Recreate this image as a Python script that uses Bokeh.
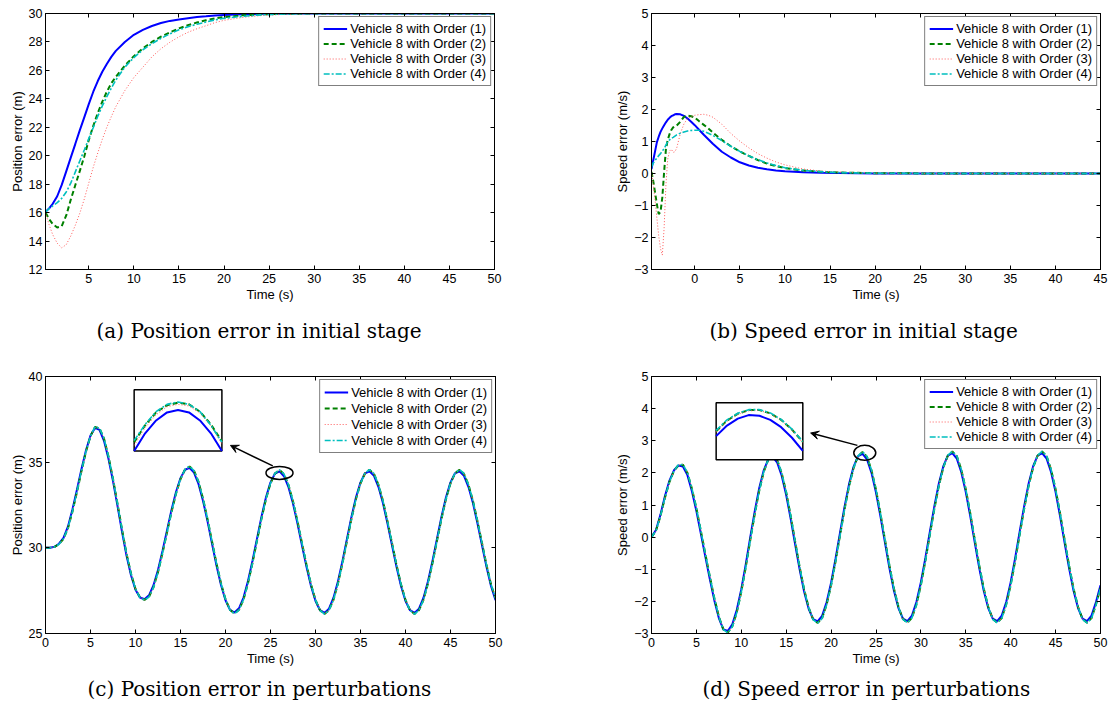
from bokeh.plotting import figure
from bokeh.models import (Range1d, LinearAxis, FixedTicker, Legend, LegendItem,
                          Title, Arrow, VeeHead)
from bokeh.layouts import column, row
from bokeh.embed import file_html
from bokeh.resources import INLINE

# ---------------- data ----------------
series_labels = ["Vehicle 8 with Order (1)", "Vehicle 8 with Order (2)",
                 "Vehicle 8 with Order (3)", "Vehicle 8 with Order (4)"]
captions = ["(a) Position error in initial stage", "(b) Speed error in initial stage",
            "(c) Position error in perturbations", "(d) Speed error in perturbations"]

# (a) position error, initial stage
t_a = [0.2, 0.6, 1.0, 1.5, 2.0, 2.5, 3.0, 3.5, 4.0, 4.5, 5.0, 5.5, 6.0, 6.5, 7.0, 7.5, 8.0,
       9.0, 10.0, 11.0, 12.0, 13.0, 14.0, 15.0, 16.0, 17.0, 18.0, 19.0, 20.0,
       22.0, 24.0, 26.0, 28.0, 30.0, 35.0, 40.0, 45.0, 50.0]
pos_a_1 = [16.05, 16.3, 16.62, 17.15, 17.95, 18.9, 19.87, 20.82, 21.78, 22.7, 23.63, 24.5, 25.25, 25.9, 26.45, 26.95, 27.37,
           28.0, 28.5, 28.85, 29.12, 29.33, 29.48, 29.58, 29.67, 29.75, 29.8, 29.86, 29.9,
           29.95, 29.98, 29.99, 30.0, 30.0, 30.0, 30.0, 30.0, 30.0]
pos_a_2 = [16.0, 15.55, 15.2, 14.95, 15.05, 15.8, 16.9, 17.92, 18.92, 19.95, 21.1, 22.1, 23.0, 23.8, 24.5, 25.1, 25.55,
           26.33, 27.0, 27.55, 28.0, 28.37, 28.67, 28.95, 29.18, 29.37, 29.52, 29.65, 29.75,
           29.87, 29.94, 29.97, 29.99, 30.0, 30.0, 30.0, 30.0, 30.0]
pos_a_3 = [16.0, 15.15, 14.45, 13.85, 13.52, 13.75, 14.35, 15.1, 15.95, 16.95, 18.08, 19.2, 20.2, 21.15, 22.0, 22.75, 23.45,
           24.58, 25.5, 26.22, 26.95, 27.52, 27.98, 28.36, 28.68, 28.93, 29.14, 29.36, 29.52,
           29.72, 29.85, 29.92, 29.96, 29.99, 30.0, 30.0, 30.0, 30.0]
pos_a_4 = [16.05, 16.28, 16.47, 16.7, 17.0, 17.45, 18.07, 18.85, 19.63, 20.4, 21.2, 21.98, 22.78, 23.5, 24.15, 24.75, 25.32,
           26.23, 26.9, 27.45, 27.88, 28.25, 28.57, 28.85, 29.07, 29.25, 29.4, 29.55, 29.66,
           29.8, 29.9, 29.95, 29.98, 30.0, 30.0, 30.0, 30.0, 30.0]

# (b) speed error, initial stage
t_b = [-4.8, -4.6, -4.4, -4.2, -4.0, -3.8, -3.6, -3.4, -3.2, -3.0, -2.8, -2.6, -2.4, -2.2, -2.0,
       -1.6, -1.2, -0.8, -0.4, 0.0, 0.5, 1.0, 1.5, 2.0,
       3.0, 4.0, 5.0, 6.0, 7.0, 8.0, 9.0, 10.0, 12.0, 14.0, 16.0, 18.0, 20.0, 25.0, 30.0, 35.0, 40.0, 45.0]
spd_b_1 = [0.14, 0.42, 0.7, 0.98, 1.15, 1.3, 1.41, 1.51, 1.6, 1.68, 1.74, 1.79, 1.82, 1.85, 1.86,
           1.85, 1.8, 1.72, 1.62, 1.51, 1.36, 1.21, 1.07, 0.93,
           0.68, 0.5, 0.35, 0.25, 0.18, 0.13, 0.095, 0.07, 0.04, 0.025, 0.012, 0.006, 0.003, 0.0, 0.0, 0.0, 0.0, 0.0]
spd_b_2 = [0.05, -0.25, -0.6, -0.97, -1.27, -1.2, -0.75, 0.05, 0.76, 1.05, 1.23, 1.36, 1.44, 1.48, 1.5,
           1.62, 1.77, 1.81, 1.79, 1.75, 1.63, 1.52, 1.41, 1.28,
           1.05, 0.85, 0.69, 0.55, 0.42, 0.31, 0.23, 0.17, 0.09, 0.055, 0.03, 0.02, 0.01, 0.003, 0.0, 0.0, 0.0, 0.0]
spd_b_3 = [0.05, -0.35, -0.85, -1.4, -1.95, -2.35, -2.55, -1.7, -0.35, 0.45, 0.7, 0.76, 0.66, 0.68, 0.8,
           1.25, 1.55, 1.72, 1.78, 1.82, 1.84, 1.85, 1.82, 1.76,
           1.54, 1.25, 1.01, 0.8, 0.62, 0.48, 0.36, 0.27, 0.14, 0.075, 0.045, 0.025, 0.012, 0.003, 0.0, 0.0, 0.0, 0.0]
spd_b_4 = [0.2, 0.33, 0.41, 0.48, 0.56, 0.62, 0.7, 0.78, 0.89, 1.0, 1.05, 1.1, 1.13, 1.17, 1.21,
           1.26, 1.3, 1.33, 1.345, 1.35, 1.35, 1.32, 1.26, 1.19,
           1.03, 0.85, 0.69, 0.55, 0.43, 0.33, 0.25, 0.18, 0.1, 0.055, 0.03, 0.018, 0.01, 0.002, 0.0, 0.0, 0.0, 0.0]

# (c), (d) perturbations, sampled every 0.5 s from 0 to 50 s
t_pert = [i * 0.5 for i in range(101)]
pos_c_1 = [30.0, 30.01, 30.06, 30.24, 30.58, 31.25, 32.25, 33.4, 34.6, 35.7,
           36.55, 37.0, 36.88, 36.25, 35.2, 33.9, 32.45, 30.95, 29.55, 28.4,
           27.55, 27.1, 27.0, 27.23, 27.82, 28.71, 29.82, 31.02, 32.21, 33.26,
           34.07, 34.56, 34.67, 34.39, 33.73, 32.75, 31.56, 30.25, 28.97, 27.83,
           26.94, 26.38, 26.22, 26.47, 27.10, 28.06, 29.25, 30.54, 31.82, 32.95,
           33.82, 34.34, 34.46, 34.18, 33.54, 32.59, 31.42, 30.14, 28.89, 27.77,
           26.90, 26.36, 26.2, 26.45, 27.09, 28.05, 29.24, 30.54, 31.82, 32.95,
           33.82, 34.35, 34.47, 34.2, 33.55, 32.6, 31.42, 30.15, 28.89, 27.77,
           26.9, 26.36, 26.2, 26.45, 27.09, 28.05, 29.24, 30.54, 31.82, 32.95,
           33.82, 34.35, 34.47, 34.2, 33.55, 32.6, 31.42, 30.15, 28.89, 27.77,
           26.95]
pos_c_2 = [30.0, 30.01, 30.05, 30.21, 30.52, 31.15, 32.12, 33.27, 34.48, 35.62,
           36.52, 37.05, 36.98, 36.38, 35.33, 34.03, 32.58, 31.08, 29.67, 28.5,
           27.6, 27.1, 26.96, 27.14, 27.7, 28.58, 29.69, 30.89, 32.09, 33.16,
           34.01, 34.57, 34.75, 34.5, 33.86, 32.88, 31.69, 30.38, 29.09, 27.93,
           27.0, 26.38, 26.16, 26.38, 26.98, 27.93, 29.12, 30.41, 31.7, 32.85,
           33.76, 34.34, 34.55, 34.3, 33.67, 32.72, 31.55, 30.27, 29.01, 27.87,
           26.96, 26.36, 26.14, 26.36, 26.97, 27.92, 29.11, 30.41, 31.7, 32.85,
           33.76, 34.35, 34.56, 34.32, 33.68, 32.73, 31.55, 30.28, 29.01, 27.87,
           26.96, 26.36, 26.14, 26.36, 26.97, 27.92, 29.11, 30.41, 31.7, 32.85,
           33.76, 34.35, 34.56, 34.32, 33.68, 32.73, 31.55, 30.28, 29.01, 27.87,
           27.05]
pos_c_3 = [30.0, 30.01, 30.05, 30.2, 30.5, 31.12, 32.08, 33.23, 34.44, 35.6,
           36.5, 37.03, 36.97, 36.38, 35.34, 34.05, 32.6, 31.1, 29.69, 28.52,
           27.62, 27.12, 26.97, 27.13, 27.68, 28.56, 29.67, 30.87, 32.07, 33.14,
           34.0, 34.56, 34.73, 34.5, 33.87, 32.9, 31.71, 30.4, 29.11, 27.95,
           27.02, 26.4, 26.17, 26.37, 26.96, 27.91, 29.1, 30.39, 31.68, 32.83,
           33.75, 34.33, 34.53, 34.3, 33.68, 32.74, 31.57, 30.29, 29.03, 27.89,
           26.98, 26.38, 26.15, 26.35, 26.95, 27.9, 29.09, 30.39, 31.68, 32.83,
           33.75, 34.34, 34.54, 34.32, 33.69, 32.75, 31.57, 30.3, 29.03, 27.89,
           26.98, 26.38, 26.15, 26.35, 26.95, 27.9, 29.09, 30.39, 31.68, 32.83,
           33.75, 34.34, 34.54, 34.32, 33.69, 32.75, 31.57, 30.3, 29.03, 27.89,
           27.07]
pos_c_4 = [30.0, 30.01, 30.05, 30.21, 30.53, 31.16, 32.13, 33.28, 34.49, 35.63,
           36.53, 37.06, 36.99, 36.39, 35.34, 34.04, 32.59, 31.09, 29.68, 28.51,
           27.61, 27.1, 26.95, 27.13, 27.69, 28.57, 29.68, 30.88, 32.08, 33.16,
           34.02, 34.58, 34.76, 34.51, 33.87, 32.89, 31.7, 30.39, 29.1, 27.94,
           27.0, 26.37, 26.15, 26.37, 26.97, 27.92, 29.11, 30.4, 31.7, 32.85,
           33.77, 34.35, 34.56, 34.31, 33.68, 32.73, 31.56, 30.28, 29.02, 27.88,
           26.96, 26.35, 26.13, 26.35, 26.96, 27.91, 29.1, 30.4, 31.7, 32.85,
           33.77, 34.36, 34.57, 34.33, 33.69, 32.74, 31.56, 30.29, 29.02, 27.88,
           26.96, 26.35, 26.13, 26.35, 26.96, 27.91, 29.1, 30.4, 31.7, 32.85,
           33.77, 34.36, 34.57, 34.33, 33.69, 32.74, 31.56, 30.29, 29.02, 27.88,
           27.06]

spd_d_1 = [0.0, 0.22, 0.7, 1.28, 1.76, 2.08, 2.23, 2.2, 1.93, 1.43,
           0.81, 0.1, -0.61, -1.31, -1.97, -2.52, -2.87, -2.92, -2.71, -2.26,
           -1.62, -0.84, 0.0, 0.81, 1.53, 2.08, 2.42, 2.495, 2.32, 1.91,
           1.31, 0.57, -0.23, -1.01, -1.7, -2.23, -2.55, -2.625, -2.45, -2.03,
           -1.42, -0.665, 0.15, 0.95, 1.65, 2.19, 2.52, 2.595, 2.42, 2.0,
           1.39, 0.64, -0.17, -0.97, -1.67, -2.21, -2.54, -2.615, -2.44, -2.02,
           -1.4, -0.65, 0.17, 0.96, 1.67, 2.21, 2.54, 2.615, 2.44, 2.02,
           1.4, 0.65, -0.17, -0.96, -1.67, -2.21, -2.54, -2.615, -2.44, -2.02,
           -1.4, -0.65, 0.17, 0.96, 1.67, 2.21, 2.54, 2.615, 2.44, 2.02,
           1.4, 0.65, -0.17, -0.96, -1.67, -2.21, -2.54, -2.615, -2.44, -2.02,
           -1.5]
spd_d_2 = [0.0, 0.2, 0.66, 1.23, 1.72, 2.06, 2.24, 2.25, 2.0, 1.51,
           0.9, 0.19, -0.53, -1.23, -1.9, -2.47, -2.87, -2.97, -2.78, -2.34,
           -1.7, -0.93, -0.09, 0.72, 1.45, 2.03, 2.41, 2.54, 2.4, 1.99,
           1.4, 0.66, -0.14, -0.93, -1.63, -2.19, -2.56, -2.67, -2.52, -2.1,
           -1.5, -0.75, 0.06, 0.87, 1.58, 2.15, 2.52, 2.65, 2.5, 2.08,
           1.48, 0.73, -0.08, -0.89, -1.6, -2.17, -2.55, -2.66, -2.51, -2.1,
           -1.49, -0.74, 0.08, 0.88, 1.6, 2.17, 2.54, 2.665, 2.52, 2.1,
           1.49, 0.74, -0.08, -0.88, -1.6, -2.17, -2.55, -2.665, -2.52, -2.1,
           -1.49, -0.74, 0.08, 0.88, 1.6, 2.17, 2.54, 2.665, 2.52, 2.1,
           1.49, 0.74, -0.08, -0.88, -1.6, -2.17, -2.55, -2.665, -2.52, -2.1,
           -1.58]
spd_d_3 = [0.0, 0.19, 0.65, 1.22, 1.71, 2.05, 2.24, 2.26, 2.02, 1.53,
           0.92, 0.21, -0.51, -1.21, -1.88, -2.46, -2.86, -2.97, -2.79, -2.36,
           -1.72, -0.95, -0.11, 0.7, 1.43, 2.02, 2.4, 2.54, 2.41, 2.0,
           1.42, 0.68, -0.12, -0.91, -1.62, -2.18, -2.56, -2.67, -2.53, -2.11,
           -1.52, -0.77, 0.04, 0.85, 1.57, 2.14, 2.51, 2.65, 2.51, 2.09,
           1.5, 0.75, -0.06, -0.87, -1.59, -2.16, -2.55, -2.66, -2.52, -2.11,
           -1.51, -0.76, 0.06, 0.86, 1.59, 2.16, 2.54, 2.66, 2.53, 2.11,
           1.51, 0.76, -0.06, -0.86, -1.59, -2.16, -2.55, -2.66, -2.53, -2.11,
           -1.51, -0.76, 0.06, 0.86, 1.59, 2.16, 2.54, 2.66, 2.53, 2.11,
           1.51, 0.76, -0.06, -0.86, -1.59, -2.16, -2.55, -2.66, -2.53, -2.11,
           -1.6]
spd_d_4 = [0.0, 0.2, 0.66, 1.23, 1.72, 2.06, 2.25, 2.26, 2.01, 1.52,
           0.91, 0.2, -0.52, -1.22, -1.89, -2.47, -2.88, -2.98, -2.79, -2.35,
           -1.71, -0.94, -0.1, 0.71, 1.44, 2.03, 2.42, 2.55, 2.41, 2.0,
           1.41, 0.67, -0.13, -0.92, -1.63, -2.19, -2.57, -2.68, -2.53, -2.11,
           -1.51, -0.76, 0.05, 0.86, 1.58, 2.15, 2.53, 2.66, 2.51, 2.09,
           1.49, 0.74, -0.07, -0.88, -1.6, -2.17, -2.56, -2.67, -2.52, -2.11,
           -1.5, -0.75, 0.07, 0.87, 1.6, 2.17, 2.55, 2.67, 2.53, 2.11,
           1.5, 0.75, -0.07, -0.87, -1.6, -2.17, -2.56, -2.67, -2.53, -2.11,
           -1.5, -0.75, 0.07, 0.87, 1.6, 2.17, 2.55, 2.67, 2.53, 2.11,
           1.5, 0.75, -0.07, -0.87, -1.6, -2.17, -2.56, -2.67, -2.53, -2.11,
           -1.59]

# zoomed insets (values around one peak)
t_inset_c = [25.1, 25.3, 25.5, 25.7, 25.9, 26.1, 26.3, 26.5, 26.7]
ins_c_1 = [33.96, 34.18, 34.34, 34.44, 34.47, 34.44, 34.34, 34.18, 33.96]
ins_c_2 = [34.07, 34.28, 34.44, 34.53, 34.56, 34.54, 34.45, 34.29, 34.08]
ins_c_3 = [34.03, 34.25, 34.41, 34.51, 34.54, 34.52, 34.43, 34.27, 34.05]
ins_c_4 = [34.09, 34.29, 34.45, 34.54, 34.57, 34.54, 34.45, 34.28, 34.07]
win_c_x = [25.1, 26.7]
win_c_y = [33.96, 34.72]

t_inset_d = [22.74, 22.94, 23.14, 23.34, 23.54, 23.74, 23.94, 24.14, 24.34]
ins_d_1 = [2.34, 2.47, 2.555, 2.598, 2.59, 2.54, 2.45, 2.32, 2.16]
ins_d_2 = [2.4, 2.53, 2.615, 2.66, 2.66, 2.62, 2.54, 2.42, 2.27]
ins_d_3 = [2.39, 2.52, 2.605, 2.65, 2.655, 2.615, 2.535, 2.41, 2.26]
ins_d_4 = [2.41, 2.54, 2.62, 2.665, 2.665, 2.625, 2.545, 2.425, 2.275]
win_d_x = [22.74, 24.34]
win_d_y = [2.05, 2.75]

# ticks
xticks_50 = [0, 5, 10, 15, 20, 25, 30, 35, 40, 45, 50]
yticks_a = [12, 14, 16, 18, 20, 22, 24, 26, 28, 30]
yticks_spd = [-3, -2, -1, 0, 1, 2, 3, 4, 5]
yticks_c = [25, 30, 35, 40]

# ---------------- styling ----------------
SANS = "Liberation Sans"
SERIF = "DejaVu Serif"
STYLES = [
    dict(line_color="#0000ff", line_width=2, line_dash="solid"),
    dict(line_color="#008000", line_width=2, line_dash="5 3"),
    dict(line_color="#ff5a5a", line_width=1, line_dash="1 2"),
    dict(line_color="#00bfbf", line_width=1.6, line_dash="6 2 2 2"),
]


def minus(v):
    return str(v).replace("-", "\u2212")


def style_axis(ax, ticks, size="12.5px"):
    ax.ticker = FixedTicker(ticks=ticks)
    ax.major_tick_in = 4
    ax.major_tick_out = 0
    ax.minor_tick_line_color = None
    ax.axis_line_color = "black"
    ax.major_tick_line_color = "black"
    ax.major_label_text_font = SANS
    ax.major_label_text_font_size = size
    ax.major_label_text_color = "black"
    ax.axis_label_text_font = SANS
    ax.axis_label_text_font_size = "13px"
    ax.axis_label_text_font_style = "normal"
    ax.axis_label_text_color = "black"


def frac_to_data(p, fx, fy):
    xr, yr = p.x_range, p.y_range
    return (xr.start + fx * (xr.end - xr.start), yr.end - fy * (yr.end - yr.start))


def make_panel(width, height, borders, xr, yr, xticks, yticks, ylabel, caption,
               caption_offset, caption_standoff, legend_row_h):
    l, r, t, b = borders
    p = figure(width=width, height=height, x_range=Range1d(*xr), y_range=Range1d(*yr),
               output_backend="svg", toolbar_location=None,
               min_border_left=l, min_border_right=r, min_border_top=t, min_border_bottom=b)
    p.grid.visible = False
    p.outline_line_color = "black"
    p.outline_line_width = 1
    p.background_fill_color = "white"
    p.border_fill_color = "white"
    xa = p.xaxis[0]
    ya = p.yaxis[0]
    style_axis(xa, xticks)
    style_axis(ya, yticks)
    ya.major_label_overrides = {v: minus(v) for v in yticks if v < 0}
    xa.major_label_standoff = 4
    ya.major_label_standoff = 3
    xa.axis_label = "Time (s)"
    xa.axis_label_standoff = 1
    ya.axis_label = ylabel
    ya.axis_label_standoff = 1
    # mirrored tick marks on top and right (MATLAB box)
    for side, ticks in (("above", xticks), ("right", yticks)):
        ax = LinearAxis()
        style_axis(ax, ticks, size="0px")
        ax.major_label_overrides = {v: "" for v in ticks}
        ax.major_label_standoff = 0
        p.add_layout(ax, side)
    p.add_layout(Title(text=caption, align="left", offset=caption_offset,
                       text_font=SERIF, text_font_size="20px",
                       text_font_style="normal", text_color="black",
                       standoff=caption_standoff), "below")
    p._legend_row_h = legend_row_h
    return p


def add_series(p, t, series):
    items = []
    for lab, ys, st in zip(series_labels, series, STYLES):
        r = p.line(t, ys, **st)
        items.append(LegendItem(label=lab, renderers=[r]))
    leg = Legend(items=items, location="top_right", border_line_color="black",
                 border_line_width=1.5, background_fill_color="white",
                 background_fill_alpha=1.0, label_text_font=SANS,
                 label_text_font_size="13px", label_text_color="black",
                 glyph_width=24, glyph_height=p._legend_row_h,
                 label_height=p._legend_row_h, spacing=0, padding=4, margin=3,
                 label_standoff=3)
    p.add_layout(leg)


def add_inset(p, box, win_x, win_y, t_in, series, ell, arrow):
    l, r, tp, bt = box
    sx = (win_x[1] - win_x[0]) / (r - l)
    xs = win_x[0] - l * sx
    sy = (win_y[1] - win_y[0]) / (bt - tp)
    ye = win_y[1] + tp * sy
    p.extra_x_ranges = {"ix": Range1d(xs, xs + sx)}
    p.extra_y_ranges = {"iy": Range1d(ye - sy, ye)}
    p.quad(left=[win_x[0]], right=[win_x[1]], bottom=[win_y[0]], top=[win_y[1]],
           x_range_name="ix", y_range_name="iy", fill_color="white",
           line_color="black", line_width=1.5)
    for ys, st in zip(series, STYLES):
        p.line(t_in, ys, x_range_name="ix", y_range_name="iy", **st)
    ex, ey = frac_to_data(p, ell[0], ell[1])
    p.ellipse(x=[ex], y=[ey], width=ell[2], height=ell[3], width_units="screen",
              height_units="screen", fill_alpha=0, line_color="black", line_width=1.5)
    x0, y0 = frac_to_data(p, arrow[0], arrow[1])
    x1, y1 = frac_to_data(p, arrow[2], arrow[3])
    p.add_layout(Arrow(end=VeeHead(size=8, line_color="black", fill_color="black",
                                   line_width=1),
                       x_start=x0, y_start=y0, x_end=x1, y_end=y1,
                       line_color="black", line_width=1.5))


pa = make_panel(556, 360, (45, 62, 13, 91), (0.2, 50), (12, 30), xticks_50, yticks_a,
                "Position error (m)", captions[0], 51, 24, 15)
add_series(pa, t_a, [pos_a_1, pos_a_2, pos_a_3, pos_a_4])

pb = make_panel(554, 360, (95, 10, 13, 91), (-4.8, 45), (-3, 5), xticks_50, yticks_spd,
                "Speed error (m/s)", captions[1], 58, 24, 15)
add_series(pb, t_b, [spd_b_1, spd_b_2, spd_b_3, spd_b_4])

pc = make_panel(556, 350, (45, 61, 16, 77), (0, 50), (25, 40), xticks_50, yticks_c,
                "Position error (m)", captions[2], 42, 12, 16)
add_series(pc, t_pert, [pos_c_1, pos_c_2, pos_c_3, pos_c_4])
add_inset(pc, (0.197, 0.392, 0.052, 0.290), win_c_x, win_c_y, t_inset_c,
          [ins_c_1, ins_c_2, ins_c_3, ins_c_4],
          (0.520, 0.375, 27, 13), (0.505, 0.348, 0.411, 0.268))

pd = make_panel(554, 350, (95, 10, 16, 77), (0, 50), (-3, 5), xticks_50, yticks_spd,
                "Speed error (m/s)", captions[3], 51, 12, 15)
add_series(pd, t_pert, [spd_d_1, spd_d_2, spd_d_3, spd_d_4])
add_inset(pd, (0.144, 0.337, 0.102, 0.324), win_d_x, win_d_y, t_inset_d,
          [ins_d_1, ins_d_2, ins_d_3, ins_d_4],
          (0.475, 0.297, 22, 15), (0.4585, 0.268, 0.3544, 0.220))

layout = column(row(pa, pb), row(pc, pd))
open("out.html", "w").write(file_html(layout, INLINE))
